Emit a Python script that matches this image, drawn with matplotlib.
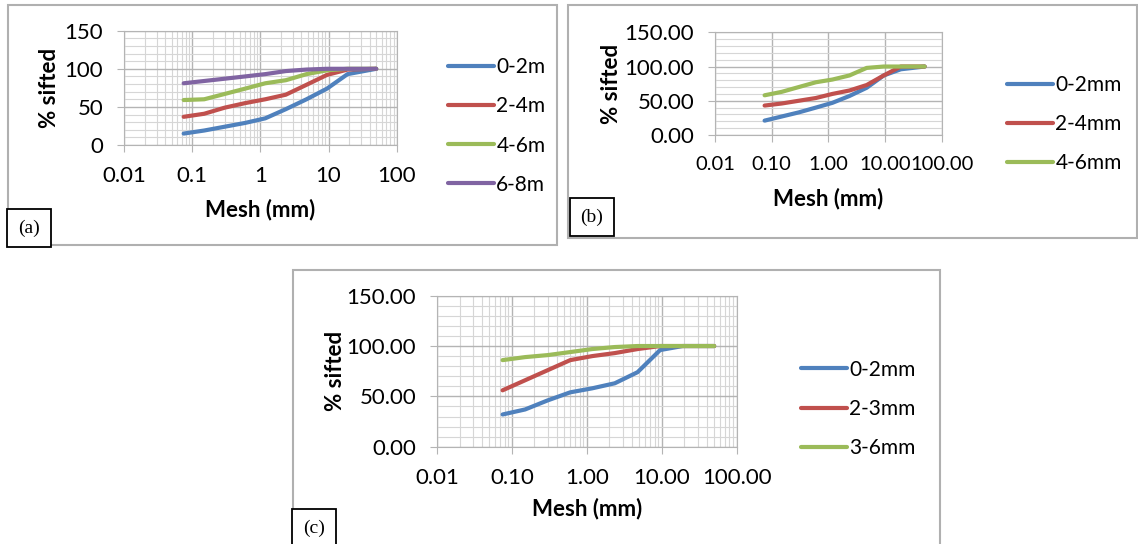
import matplotlib.pyplot as plt
from matplotlib.patches import Rectangle
from matplotlib.ticker import LogLocator, FixedLocator, MultipleLocator

plt.rcParams['font.family'] = ['Lato', 'DejaVu Sans']

W, H = 1138, 544

# sieve sizes (mm)
sieve = [0.075, 0.15, 0.3, 0.6, 1.18, 2.36, 4.75, 9.5, 19, 50]

# panel (a)
a_labels = ["0-2m", "2-4m", "4-6m", "6-8m"]
a_02 = [15, 19, 24, 29, 35, 47, 60, 74, 93, 100]
a_24 = [37, 41, 49, 55, 60, 66, 79, 92, 99, 100]
a_46 = [59, 60, 67, 74, 81, 85, 93, 98, 100, 100]
a_68 = [81, 84, 87, 90, 93, 97, 99, 100, 100, 100]

# panel (b)
b_labels = ["0-2mm", "2-4mm", "4-6mm"]
b_02 = [21, 27, 33, 40, 47, 57, 69, 87, 96, 100]
b_24 = [43, 46, 50, 54, 60, 65, 73, 87, 100, 100]
b_46 = [58, 63, 70, 77, 81, 87, 98, 100, 100, 100]

# panel (c)
c_labels = ["0-2mm", "2-3mm", "3-6mm"]
c_02 = [32, 37, 46, 54, 58, 63, 74, 96, 100, 100]
c_23 = [56, 66, 76, 86, 90, 93, 97, 100, 100, 100]
c_36 = [86, 89, 91, 94, 97, 99, 100, 100, 100, 100]

xticks = [0.01, 0.1, 1, 10, 100]
yticks = [0, 50, 100, 150]
xlab_short = ["0.01", "0.1", "1", "10", "100"]
xlab_long = ["0.01", "0.10", "1.00", "10.00", "100.00"]
ylab_short = ["0", "50", "100", "150"]
ylab_long = ["0.00", "50.00", "100.00", "150.00"]

colors = ["#4F81BD", "#C0504D", "#9BBB59", "#8064A2"]

fig = plt.figure(figsize=(W / 100, H / 100), dpi=100)


def px_rect(l, t, r, b):
    return [l / W, 1 - b / H, (r - l) / W, (b - t) / H]


def frame(l, t, r, b):
    fig.patches.append(Rectangle((l / W, 1 - b / H), (r - l) / W, (b - t) / H,
                                 transform=fig.transFigure, fill=False,
                                 edgecolor="#b0b0b0", linewidth=1.5))


def panel(rect, series, labels, xl, yl, leg_anchor, ylab_x, xlab_y, xfs=16):
    ax = fig.add_axes(rect)
    for s, lab, c in zip(series, labels, colors):
        ax.plot(sieve, s, color=c, lw=3, label=lab, solid_capstyle="round")
    ax.set_xscale("log")
    ax.set_xlim(0.01, 100)
    ax.set_ylim(0, 150)
    ax.xaxis.set_major_locator(FixedLocator(xticks))
    ax.set_xticklabels(xl)
    ax.xaxis.set_minor_locator(LogLocator(base=10, subs=range(2, 10)))
    ax.set_yticks(yticks)
    ax.set_yticklabels(yl)
    ax.yaxis.set_minor_locator(MultipleLocator(10))
    ax.grid(which="major", color="#b4b4b4", lw=1.0)
    ax.grid(which="minor", color="#d6d6d6", lw=0.8)
    ax.set_axisbelow(True)
    for sp in ax.spines.values():
        sp.set_color("#b4b4b4")
    ax.tick_params(which="major", length=5, color="#b4b4b4", labelsize=16)
    ax.tick_params(axis="x", which="major", pad=10, labelsize=xfs)
    ax.tick_params(axis="y", which="major", pad=10)
    ax.tick_params(which="minor", length=0)
    ax.set_ylabel("% sifted", fontsize=16, fontweight="bold")
    ax.set_xlabel("Mesh (mm)", fontsize=16, fontweight="bold")
    ax.yaxis.set_label_coords(ylab_x, 0.5)
    ax.xaxis.set_label_coords(0.5, xlab_y)
    ax.legend(loc="center left", bbox_to_anchor=leg_anchor, frameon=False,
              fontsize=15, handlelength=2.2, handletextpad=0.1,
              labelspacing=0.92, borderaxespad=0)
    return ax


def tag(x, y, s):
    fig.text(x / W, 1 - y / H, s, family="Liberation Serif", fontsize=14,
             ha="center", va="center",
             bbox=dict(boxstyle="square,pad=0.55", fc="white", ec="black", lw=1.3))


# frames
frame(8, 5, 557, 245)
frame(568, 5, 1137, 238)
frame(293, 270, 940, 548)

# (a)
ra = px_rect(124, 30.7, 396.7, 145)
panel(ra, [a_02, a_24, a_46, a_68], a_labels, xlab_short, ylab_short,
      (1.159, 0.166), -0.235, -0.472)
# (b)
rb = px_rect(715, 32.3, 941.7, 135)
panel(rb, [b_02, b_24, b_46], b_labels, xlab_long, ylab_long,
      (1.253, 0.107), -0.41, -0.516, xfs=14.5)
# (c)
rc = px_rect(437, 295.7, 736.7, 446.7)
panel(rc, [c_02, c_23, c_36], c_labels, xlab_long, ylab_long,
      (1.188, 0.25), -0.304, -0.34)

tag(29, 228, "(a)")
tag(592, 217, "(b)")
tag(314, 528, "(c)")

fig.savefig("out.png", dpi=100)
